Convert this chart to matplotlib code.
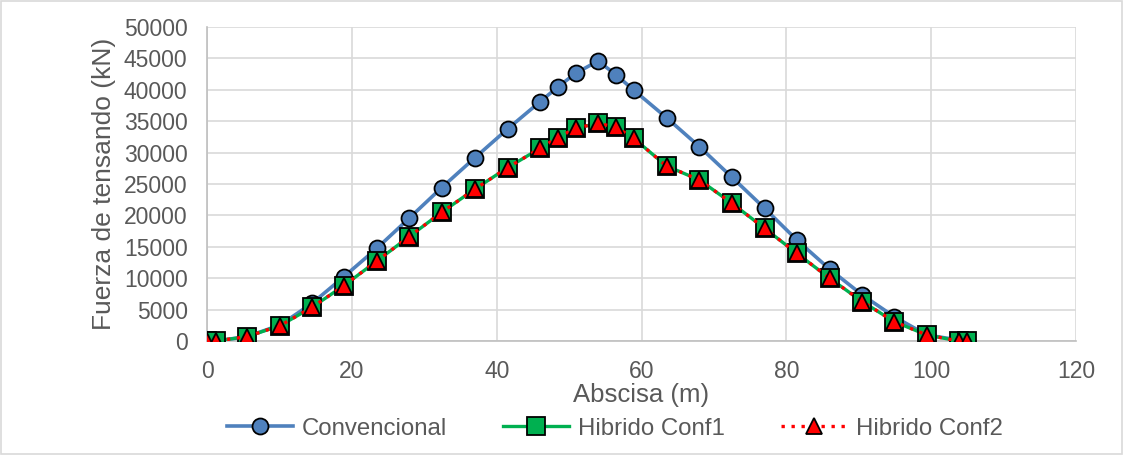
import numpy as np
import matplotlib.pyplot as plt
from matplotlib.patches import Rectangle

# abscisa (m)
abscisa = [0, 1.2, 5.5, 10.1, 14.5, 18.9, 23.45, 27.9, 32.4, 37.0, 41.5, 46.0, 48.4,
           50.9, 54.0, 56.5, 58.9, 63.45, 68.0, 72.5, 77.0, 81.45, 86.0, 90.5, 94.9,
           99.4, 103.8, 105.0]

# fuerza de tensando (kN)
convencional = [0, 0, 700, 2550, 6000, 10240, 14760, 19540, 24420, 29190, 33760, 38110,
                40400, 42630, 44590, 42360, 39970, 35560, 30940, 26060, 21130, 16080,
                11420, 7320, 3870, 960, 160, 0]
hibrido_conf1 = [0, 0, 690, 2460, 5370, 8820, 12740, 16610, 20490, 24200, 27600, 30680,
                 32370, 33870, 34670, 34030, 32280, 27870, 25640, 21920, 17940, 13960,
                 9980, 6260, 3080, 960, 0, 0]
hibrido_conf2 = [0, 0, 690, 2460, 5370, 8820, 12740, 16610, 20490, 24200, 27600, 30680,
                 32370, 33870, 34670, 34030, 32280, 27870, 25640, 21920, 17940, 13960,
                 9980, 6260, 3080, 960, 0, 0]

plt.rcParams['font.family'] = ['Liberation Sans', 'DejaVu Sans']
gris = '#595959'

fig = plt.figure(figsize=(11.24, 4.55), dpi=100)
ax = fig.add_axes([0.1842, 0.2505, 0.9573 - 0.1842, 0.9407 - 0.2505])

ax.plot(abscisa, convencional, color='#4f81bd', lw=2.6, marker='o', ms=11.5,
        mfc='#4f81bd', mec='black', mew=1.3, label='Convencional', zorder=3)
ax.plot(abscisa, hibrido_conf1, color='#00b050', lw=2.4, marker='s', ms=12.5,
        mfc='#00b050', mec='black', mew=1.3, label='Hibrido Conf1', zorder=4)
ax.plot(abscisa, hibrido_conf2, color='#ff0000', lw=2.4, ls=(0, (1, 2)), marker='^', ms=11,
        mfc='#ff0000', mec='black', mew=1.3, label='Hibrido Conf2', zorder=5)

ax.set_xlim(0, 120)
ax.set_ylim(0, 50000)
ax.set_xticks(np.arange(0, 121, 20))
ax.set_yticks(np.arange(0, 50001, 5000))
ax.grid(True, color='#d9d9d9', lw=1.2)
ax.set_axisbelow(True)
for s in ['top', 'right']:
    ax.spines[s].set_visible(False)
for s in ['left', 'bottom']:
    ax.spines[s].set_color('#bfbfbf')
    ax.spines[s].set_linewidth(1.2)
ax.tick_params(length=0, labelsize=16.5, labelcolor=gris, pad=14)

ax.set_xlabel('Abscisa (m)', fontsize=18.5, color=gris, labelpad=0)
ax.set_ylabel('Fuerza de tensando (kN)', fontsize=19, color=gris, labelpad=6)

leg = fig.legend(loc='center', bbox_to_anchor=(0.547, 0.058), ncol=3, frameon=False,
                 fontsize=17.3, handlelength=2.75, columnspacing=2.3, handletextpad=0.4,
                 labelcolor=gris)

fig.patches.append(Rectangle((0.001, 0.002), 0.997, 0.995, transform=fig.transFigure,
                             fill=False, edgecolor='#d9d9d9', lw=1.2))

fig.savefig('out.png', dpi=100)
